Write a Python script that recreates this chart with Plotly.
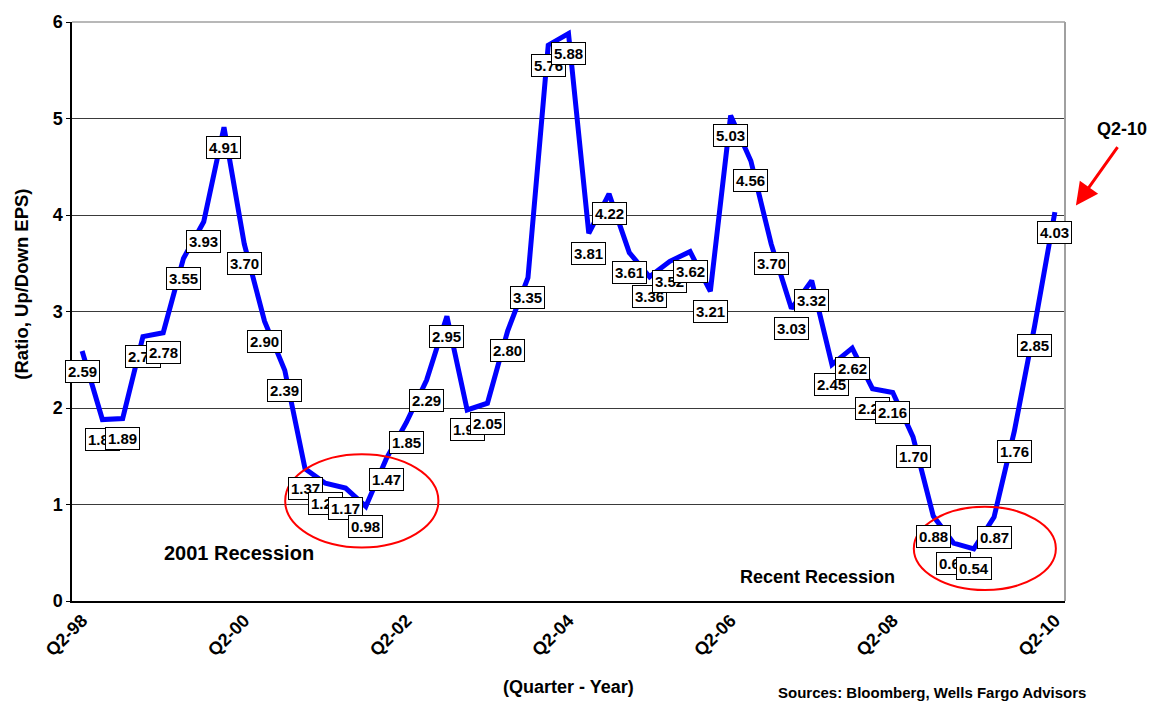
import plotly.graph_objects as go

# Quarterly ratio of upward to downward EPS revisions, Q2-98 .. Q2-10
quarters = [
    "Q2-98", "Q3-98", "Q4-98", "Q1-99", "Q2-99", "Q3-99", "Q4-99",
    "Q1-00", "Q2-00", "Q3-00", "Q4-00", "Q1-01", "Q2-01", "Q3-01", "Q4-01",
    "Q1-02", "Q2-02", "Q3-02", "Q4-02", "Q1-03", "Q2-03", "Q3-03", "Q4-03",
    "Q1-04", "Q2-04", "Q3-04", "Q4-04", "Q1-05", "Q2-05", "Q3-05", "Q4-05",
    "Q1-06", "Q2-06", "Q3-06", "Q4-06", "Q1-07", "Q2-07", "Q3-07", "Q4-07",
    "Q1-08", "Q2-08", "Q3-08", "Q4-08", "Q1-09", "Q2-09", "Q3-09", "Q4-09",
    "Q1-10", "Q2-10",
]
ratio = [
    2.59, 1.88, 1.89, 2.74, 2.78, 3.55, 3.93,
    4.91, 3.70, 2.90, 2.39, 1.37, 1.22, 1.17, 0.98,
    1.47, 1.85, 2.29, 2.95, 1.98, 2.05, 2.80, 3.35,
    5.76, 5.88, 3.81, 4.22, 3.61, 3.36, 3.52, 3.62,
    3.21, 5.03, 4.56, 3.70, 3.03, 3.32, 2.45, 2.62,
    2.20, 2.16, 1.70, 0.88, 0.60, 0.54, 0.87, 1.76,
    2.85, 4.03,
]
tick_quarters = ["Q2-98", "Q2-00", "Q2-02", "Q2-04", "Q2-06", "Q2-08", "Q2-10"]
y_ticks = [0, 1, 2, 3, 4, 5, 6]

FONT = "Arial, Liberation Sans, sans-serif"


def bold(size):
    return dict(family=FONT, size=size, color="black", weight="bold")


fig = go.Figure()
fig.add_trace(go.Scatter(
    x=quarters, y=ratio, mode="lines",
    line=dict(color="#0000FF", width=5),
    hoverinfo="x+y", showlegend=False,
))

annotations = []
# boxed value labels under each point
for q, v in zip(quarters, ratio):
    annotations.append(dict(
        x=q, y=v, xref="x", yref="y", text=f"{v:.2f}", showarrow=False,
        yshift=-20, bgcolor="white", bordercolor="black", borderwidth=1,
        borderpad=2, font=bold(15),
    ))

annotations += [
    dict(x=7.75, y=0.50, xref="x", yref="y", text="2001 Recession", showarrow=False,
         font=bold(20)),
    dict(x=36.3, y=0.25, xref="x", yref="y", text="Recent Recession", showarrow=False,
         font=bold(18)),
    dict(x=1.057, y=0.815, xref="paper", yref="paper", text="Q2-10", showarrow=False,
         xanchor="center", yanchor="middle", font=bold(18)),
    # red pointer toward the latest quarter
    dict(x=1.011, y=0.683, xref="paper", yref="paper", text="", showarrow=True,
         ax=42, ay=-59, arrowhead=2, arrowsize=1.5, arrowwidth=3, arrowcolor="#FF0000",
         startstandoff=0, font=dict(size=1), borderpad=0),
    dict(x=-0.0504, y=0.548, xref="paper", yref="paper", text="(Ratio, Up/Down EPS)",
         textangle=-90, showarrow=False, xanchor="center", yanchor="middle",
         font=bold(18.5)),
    dict(x=0.5, y=-0.149, xref="paper", yref="paper", text="(Quarter - Year)",
         showarrow=False, xanchor="center", yanchor="middle", font=bold(18)),
    dict(x=1.023, y=-0.1575, xref="paper", yref="paper",
         text="Sources: Bloomberg, Wells Fargo Advisors",
         showarrow=False, xanchor="right", yanchor="middle", font=bold(15)),
]

shapes = [
    # plot-area frame on top and right
    dict(type="line", xref="paper", yref="paper", x0=0, x1=1, y0=1, y1=1,
         line=dict(color="#A0A0A0", width=1.5), layer="above"),
    dict(type="line", xref="paper", yref="paper", x0=1, x1=1, y0=0, y1=1,
         line=dict(color="#A0A0A0", width=2), layer="above"),
    # recession ellipses
    dict(type="circle", xref="x", yref="y", x0=10.02, x1=17.58, y0=0.555, y1=1.52,
         line=dict(color="#FF0000", width=2), layer="above"),
    dict(type="circle", xref="x", yref="y", x0=41.04, x1=48.05, y0=0.113, y1=0.976,
         line=dict(color="#FF0000", width=2), layer="above"),
]

fig.update_layout(
    width=1152, height=704, autosize=False,
    margin=dict(l=72, r=87, t=17, b=103),
    paper_bgcolor="white", plot_bgcolor="white",
    annotations=annotations, shapes=shapes,
    xaxis=dict(
        type="category", categoryorder="array", categoryarray=quarters,
        range=[-0.5, len(quarters) - 0.5],
        tickmode="array", tickvals=tick_quarters, ticktext=tick_quarters,
        tickangle=-45, ticks="", showgrid=False, zeroline=False,
        showline=True, linecolor="black", linewidth=2,
        tickfont=bold(18),
    ),
    yaxis=dict(
        range=[0, 6], tickmode="array", tickvals=y_ticks,
        ticks="outside", ticklen=4, tickcolor="black", tickwidth=1,
        showgrid=True, gridcolor="#3A3A3A", gridwidth=1, zeroline=False,
        showline=True, linecolor="black", linewidth=1.5,
        tickfont=bold(18),
    ),
)

fig.write_html("out.html")
